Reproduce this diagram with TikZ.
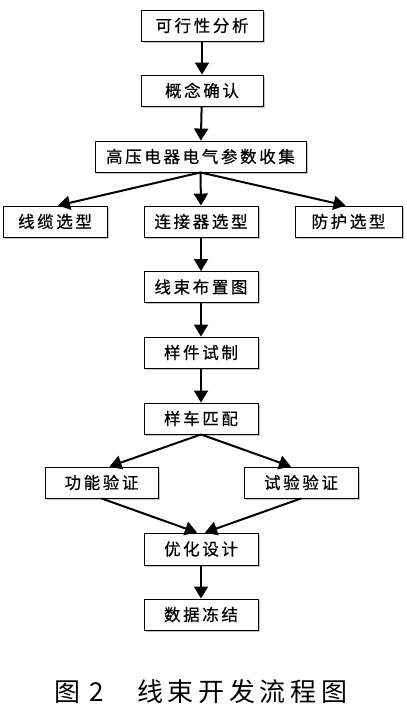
\documentclass[tikz,border=0pt]{standalone}
\usepackage{fontspec}
\usepackage{tikz}
\usetikzlibrary{arrows.meta,shadows}
\newfontfamily\cjk[LetterSpace=16,FakeBold=0.6]{Noto Sans CJK SC}
\newfontfamily\capcjk[LetterSpace=18]{Noto Sans CJK SC}

\tikzset{
  stepbox/.style={draw=black, line width=0.9pt, fill=white, inner sep=0pt,
    minimum width=114pt, minimum height=31pt,
    font=\cjk\fontsize{16.5}{18}\selectfont,
    drop shadow={shadow xshift=1.6pt, shadow yshift=-1.6pt, fill=black!45}},
  flow/.style={line width=2pt, -{Triangle[width=14pt,length=12pt]}}
}

\begin{document}
\begin{tikzpicture}[x=1pt,y=1pt]
       \useasboundingbox (0,0) rectangle (407,-715);

       \node(feas)[stepbox, minimum width=122pt] at (202,-25.5) {可行性分析};
       \node(conc)[stepbox, minimum width=122pt] at (202,-90.5) {概念确认};
       \node(coll)[stepbox, minimum width=211pt] at (200.5,-156.5) {高压电器电气参数收集};

       \node(cabl)[stepbox, minimum width=104pt] at (55,-221.5) {线缆选型};
       \node(conn)[stepbox] at (201,-221.5) {连接器选型};
       \node(prot)[stepbox, minimum width=107pt] at (348.5,-221.5) {防护选型};

       \node(layo)[stepbox] at (201,-287) {线束布置图};
       \node(samp)[stepbox] at (201,-352.5) {样件试制};
       \node(veh)[stepbox] at (201,-418.5) {样车匹配};

       \node(func)[stepbox, minimum width=113pt] at (101.5,-482.5) {功能验证};
       \node(test)[stepbox] at (301,-482.5) {试验验证};

       \node(opti)[stepbox, minimum height=32pt] at (201,-549) {优化设计};
       \node(frz)[stepbox] at (201,-614.5) {数据冻结};

       \draw[flow] (feas) -- (conc);
       \draw[flow] (conc) -- (coll);
       \draw[flow] (coll.south) -- ([xshift=3pt]cabl.north);
       \draw[flow] (coll.south) -- (conn.north);
       \draw[flow] (coll.south) -- ([xshift=-3pt]prot.north);
       \draw[flow] (conn) -- (layo);
       \draw[flow] (layo) -- (samp);
       \draw[flow] (samp) -- (veh);
       \draw[flow] (veh.south) -- ([xshift=8pt]func.north);
       \draw[flow] (veh.south) -- ([xshift=-10pt]test.north);
       \draw[flow] (func.south) -- ([xshift=-4pt]opti.north);
       \draw[flow] (test.south) -- ([xshift=4pt]opti.north);
       \draw[flow] (opti) -- (frz);

       \node(cap)[font=\capcjk\fontsize{26}{30}\selectfont] at (201,-692) {图\hspace{9pt}2\hspace{33pt}线束开发流程图};
     \end{tikzpicture}
\end{document}
